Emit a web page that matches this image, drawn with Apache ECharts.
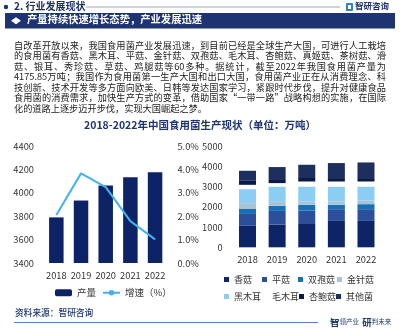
<!DOCTYPE html>
<html><head><meta charset="utf-8">
<script src="https://cdn.jsdelivr.net/npm/echarts@6/dist/echarts.min.js"></script>
<style>
html,body{margin:0;padding:0;background:#fff;}
#wrap{position:relative;width:400px;height:330px;overflow:hidden;font-family:"Noto Sans CJK SC","Noto Sans",sans-serif;}
#chart{position:absolute;left:0;top:0;width:400px;height:330px;}
#para{position:absolute;left:14px;top:39.5px;width:372px;color:#222;font-size:9.2px;z-index:2;}
#para div{height:10.5px;line-height:10.5px;text-align:justify;text-align-last:justify;overflow:visible;}
#para div.last{text-align-last:left;}
</style></head>
<body><div id="wrap"><div id="chart"></div><div id="para"></div></div>
<script>
// ---------- data ----------
const paraLines = [
  '自改革开放以来，我国食用菌产业发展迅速，到目前已经是全球生产大国，可进行人工栽培',
  '的食用菌有香菇、黑木耳、平菇、金针菇、双孢菇、毛木耳、杏鲍菇、真姬菇、茶树菇、滑',
  '菇、银耳、秀珍菇、草菇、鸡腿菇等60多种。据统计，截至2022年我国食用菌产量为',
  '4175.85万吨；我国作为食用菌第一生产大国和出口大国，食用菌产业正在从消费理念、科',
  '技创新、技术开发等多方面向欧美、日韩等发达国家学习，紧跟时代步伐，提升对健康食品',
  '食用菌的消费需求，加快生产方式的变革，借助国家“一带一路”战略构想的实施，在国际',
  '化的道路上逐步迈开步伐，实现大国崛起之梦。'
];
const years = ['2018', '2019', '2020', '2021', '2022'];
const output = [3789.88, 3933.87, 4061.43, 4133.94, 4175.85];
const growth = [2.05, 3.83, 3.24, 1.79, 1.01];
const typeNames = ['香菇', '平菇', '双孢菇', '金针菇', '黑木耳', '毛木耳', '杏鲍菇', '其他菌'];
const xianggu  = [1060, 1120, 1190, 1302, 1302];
const pinggu   = [588, 677, 622, 579, 579];
const shuangbao= [263, 248, 282, 213, 248];
const jinzhen  = [267, 232, 163, 163, 178];
const heimuer  = [693, 723, 743, 743, 693];
const maomuer  = [213, 168, 248, 248, 248];
const xingbao  = [198, 198, 217, 168, 168];
const others   = [495, 594, 609, 742, 772];
const typeValues = [xianggu, pinggu, shuangbao, jinzhen, heimuer, maomuer, xingbao, others];
const leftTicks = {min: 3400, max: 4400, interval: 200};
const rightTicks = {min: 0, max: 5, interval: 1};
const stackTicks = {min: 0, max: 5000, interval: 1000};

// ---------- paragraph ----------
const para = document.getElementById('para');
paraLines.forEach((t, i) => {
  const d = document.createElement('div');
  d.textContent = t;
  if (i === paraLines.length - 1) d.className = 'last';
  para.appendChild(d);
});

// ---------- chart ----------
const FONT = '"Noto Sans CJK SC","Noto Sans",sans-serif';
const NAVY = '#1c3170';
const typeColors = ['#0d2466', '#2c4f9c', '#1570b5', '#a7c3d9', '#8ccdf3', '#ffffff', '#0a1a48', '#1d2f5f'];
const legendPos = [
  [224, 275], [262, 275], [298, 275], [337, 275],
  [224, 292], [262, 292], [299, 292], [336, 292]
];
const axisLabelStyle = {color: '#333', fontSize: 9.3, fontFamily: FONT, showMaxLabel: true, showMinLabel: true};

const chart = echarts.init(document.getElementById('chart'), null, {renderer: 'canvas'});

const legends = [{
  left: 55, top: 288, padding: 0, itemWidth: 17, itemHeight: 7, itemGap: 6,
  textStyle: {color: '#333', fontSize: 9.5, fontFamily: FONT},
  data: ['产量', '增速（%）']
}];
typeNames.forEach((n, i) => {
  legends.push({
    left: legendPos[i][0], top: legendPos[i][1], padding: 0,
    itemWidth: 5, itemHeight: 5, icon: 'rect',
    textStyle: {color: '#333', fontSize: 9, fontFamily: FONT},
    data: [n]
  });
});

const stackSeries = typeNames.map((n, i) => ({
  name: n, type: 'bar', stack: 'total', xAxisIndex: 2, yAxisIndex: 2,
  barWidth: 17, data: typeValues[i],
  itemStyle: {color: typeColors[i]}
}));

const plain = v => String(v);

chart.setOption({
  animation: false,
  textStyle: {fontFamily: FONT},
  title: {
    text: '2018-2022年中国食用菌生产现状（单位：万吨）',
    left: 'center', top: 120, padding: 0,
    textStyle: {color: '#1f3570', fontSize: 10.5, fontWeight: 'bold', fontFamily: FONT}
  },
  legend: legends,
  grid: [
    {left: 44, right: 232.6, top: 146, bottom: 67},
    {left: 232.7, right: 19.2, top: 146, bottom: 82.7}
  ],
  xAxis: [
    {type: 'category', gridIndex: 0, data: years, axisLine: {show: false}, axisTick: {show: false},
     axisLabel: Object.assign({margin: 8, interval: 0}, axisLabelStyle)},
    {type: 'category', gridIndex: 0, data: years, show: false},
    {type: 'category', gridIndex: 1, data: years, axisLine: {show: false}, axisTick: {show: false},
     axisLabel: Object.assign({margin: 8, interval: 0}, axisLabelStyle)}
  ],
  yAxis: [
    {type: 'value', gridIndex: 0, min: leftTicks.min, max: leftTicks.max, interval: leftTicks.interval,
     splitLine: {show: false}, axisLine: {show: false}, axisTick: {show: false},
     axisLabel: Object.assign({margin: 10, formatter: plain}, axisLabelStyle)},
    {type: 'value', gridIndex: 0, position: 'right', min: rightTicks.min, max: rightTicks.max, interval: rightTicks.interval,
     splitLine: {show: false}, axisLine: {show: false}, axisTick: {show: false},
     axisLabel: Object.assign({margin: 10, formatter: v => v.toFixed(1) + '%'}, axisLabelStyle)},
    {type: 'value', gridIndex: 1, min: stackTicks.min, max: stackTicks.max, interval: stackTicks.interval,
     splitLine: {show: false}, axisLine: {show: false}, axisTick: {show: false},
     axisLabel: Object.assign({margin: 10, formatter: plain}, axisLabelStyle)}
  ],
  series: [
    {name: '产量', type: 'bar', xAxisIndex: 0, yAxisIndex: 0, barWidth: 14.5, data: output,
     itemStyle: {color: '#0c2466'}},
    {name: '增速（%）', type: 'line', xAxisIndex: 0, yAxisIndex: 1, data: growth,
     symbol: 'none', lineStyle: {color: '#44b2ef', width: 2}, itemStyle: {color: '#44b2ef'}}
  ].concat(stackSeries),
  graphic: [
    // header
    {type: 'circle', shape: {cx: 6, cy: 7, r: 2.2}, style: {fill: NAVY}},
    {type: 'text', left: 14, top: 1, style: {text: '2. 行业发展现状', fill: '#1b2f6b', font: 'bold 10px ' + FONT}},
    {type: 'line', shape: {x1: 86, y1: 7, x2: 340, y2: 7}, style: {stroke: '#9aa6c0', lineWidth: 1}},
    {type: 'rect', shape: {x: 346, y: 3, width: 7, height: 8, r: 1}, style: {fill: '#2f7fd0'}},
    {type: 'rect', shape: {x: 348, y: 5, width: 3, height: 4}, style: {fill: '#fff'}},
    {type: 'text', left: 355, top: 2, style: {text: '智研咨询', fill: '#1b2f6b', font: 'bold 8.5px ' + FONT}},
    // banner
    {type: 'rect', shape: {x: 5, y: 13, width: 390, height: 15.5}, style: {fill: '#1e3472'}},
    {type: 'polygon', shape: {points: [[11, 20.8], [16, 17.3], [21, 20.8], [16, 24.3]]}, style: {fill: '#fff'}},
    {type: 'text', left: 27, top: 14.3, style: {text: '产量持续快速增长态势，产业发展迅速', fill: '#fff', font: 'bold 10.3px ' + FONT}},
    // source + footer
    {type: 'text', left: 15, top: 308, style: {text: '资料来源：智研咨询', fill: '#1f3570', font: '500 8.7px ' + FONT}},
    {type: 'line', shape: {x1: 14, y1: 322.5, x2: 318, y2: 322.5}, style: {stroke: '#5a7fc0', lineWidth: 1}},
    {type: 'text', left: 330, top: 316, style: {
      text: '{b|智}{s|领产业} {b|研}{s|判未来}',
      rich: {
        b: {fontSize: 9.5, fontWeight: 'bold', fill: '#1f3570', fontFamily: FONT},
        s: {fontSize: 6.5, fill: '#1f3570', fontFamily: FONT}
      }
    }}
  ]
});
</script></body></html>
